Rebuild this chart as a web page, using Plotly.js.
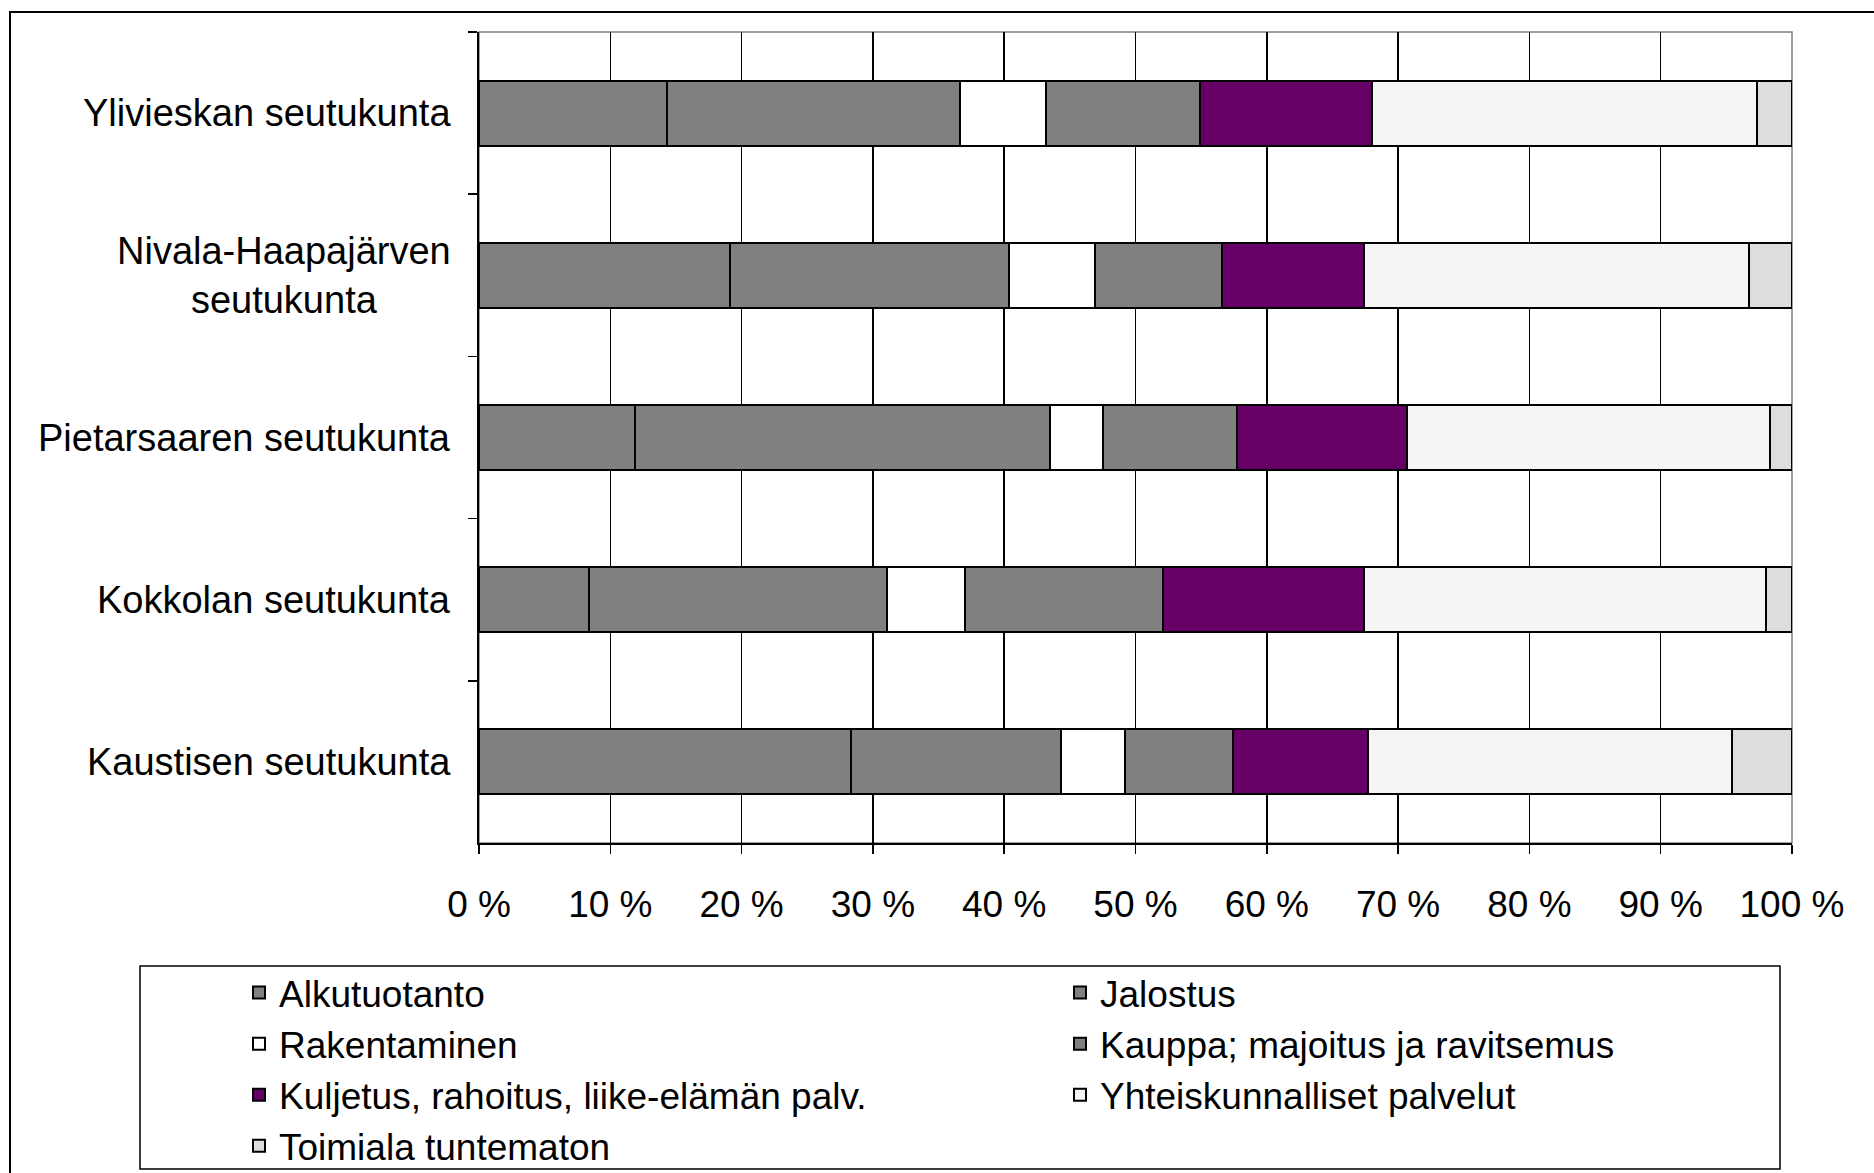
<!DOCTYPE html>
<html>
<head>
<meta charset="utf-8">
<script src="https://cdn.plot.ly/plotly-3.0.1.min.js"></script>
<style>
html, body { margin: 0; padding: 0; background: #ffffff; }
#chart { width: 1874px; height: 1173px; }
</style>
</head>
<body>
<div id="chart"></div>
<script>
// Categories, top to bottom
const regions = [
  "Ylivieskan seutukunta",
  "Nivala-Haapajärven<br>seutukunta",
  "Pietarsaaren seutukunta",
  "Kokkolan seutukunta",
  "Kaustisen seutukunta"
];

// Series names (legend order)
const seriesNames = [
  "Alkutuotanto",
  "Jalostus",
  "Rakentaminen",
  "Kauppa; majoitus ja ravitsemus",
  "Kuljetus, rahoitus, liike-elämän palv.",
  "Yhteiskunnalliset palvelut",
  "Toimiala tuntematon"
];

// Shares (%) per region, same order as regions
const alkutuotanto   = [14.3, 19.1, 11.9,  8.4, 28.3];
const jalostus       = [22.3, 21.3, 31.6, 22.7, 16.0];
const rakentaminen   = [ 6.6,  6.5,  4.0,  5.9,  4.9];
const kauppa         = [11.7,  9.7, 10.2, 15.1,  8.2];
const kuljetus       = [13.1, 10.8, 13.0, 15.3, 10.3];
const yhteiskunnall  = [29.3, 29.3, 27.6, 30.6, 27.7];
const tuntematon     = [ 2.7,  3.3,  1.7,  2.0,  4.6];

// X axis ticks
const tickVals = [0, 10, 20, 30, 40, 50, 60, 70, 80, 90, 100];
const tickText = ["0 %", "10 %", "20 %", "30 %", "40 %", "50 %", "60 %", "70 %", "80 %", "90 %", "100 %"];

const seriesValues = [alkutuotanto, jalostus, rakentaminen, kauppa, kuljetus, yhteiskunnall, tuntematon];
const seriesColors = ["#808080", "#808080", "#ffffff", "#808080", "#660066", "#f5f5f5", "#dddddd"];

const FONT = "Arial, 'Liberation Sans', Helvetica, sans-serif";
const FS = 37;

const traces = seriesNames.map((name, i) => ({
  type: "bar",
  orientation: "h",
  name: name,
  y: regions,
  x: seriesValues[i],
  marker: { color: seriesColors[i], line: { color: "#000000", width: 2 } },
  hoverinfo: "skip"
}));

// Layout geometry (pixels)
const W = 1874, H = 1173;
const L = 479, R = 1792, T = 32, B = 843;
const pw = R - L, ph = B - T;
const px = v => (v - L) / pw;
const py = v => (B - v) / ph;

const annotations = regions.map(r => ({
  xref: "paper", yref: "y",
  x: 0, y: r,
  xanchor: "right", yanchor: "middle",
  xshift: -26,
  text: r,
  align: "center",
  showarrow: false,
  font: { family: FONT, size: 38, color: "#000000" }
}));

const layout = {
  width: W, height: H,
  margin: { l: L, r: W - R, t: T, b: H - B, pad: 0, autoexpand: false },
  paper_bgcolor: "#ffffff",
  plot_bgcolor: "#ffffff",
  barmode: "stack",
  bargap: 0.6,
  showlegend: true,
  font: { family: FONT, size: FS, color: "#000000" },
  xaxis: {
    range: [0, 100],
    tickvals: tickVals,
    ticktext: tickText,
    ticks: "outside",
    ticklen: 9,
    tickwidth: 1.5,
    tickcolor: "#000000",
    showline: true,
    linecolor: "#000000",
    linewidth: 2,
    showgrid: true,
    gridcolor: "#000000",
    gridwidth: 1.5,
    zeroline: false,
    ticklabelstandoff: 19,
    tickfont: { family: FONT, size: FS, color: "#000000" },
    fixedrange: true
  },
  yaxis: {
    type: "category",
    categoryorder: "array",
    categoryarray: regions,
    autorange: "reversed",
    showticklabels: false,
    ticks: "outside",
    tickson: "boundaries",
    ticklen: 9,
    tickwidth: 1.5,
    tickcolor: "#000000",
    showline: true,
    linecolor: "#000000",
    linewidth: 2,
    showgrid: false,
    zeroline: false,
    fixedrange: true
  },
  legend: {
    orientation: "h",
    x: px(239),
    y: py(962),
    xanchor: "left",
    yanchor: "top",
    traceorder: "normal",
    entrywidth: 776,
    entrywidthmode: "pixels",
    bgcolor: "rgba(0,0,0,0)",
    borderwidth: 0,
    itemclick: false,
    itemdoubleclick: false,
    font: { family: FONT, size: FS, color: "#000000" }
  },
  annotations: annotations,
  shapes: [
    // plot area frame (grey)
    { type: "rect", xref: "paper", yref: "paper", x0: 0, x1: 1, y0: 0, y1: 1,
      line: { color: "#808080", width: 1.5 }, layer: "below" },
    // legend frame
    { type: "rect", xref: "paper", yref: "paper",
      x0: px(140), x1: px(1780), y0: py(1169), y1: py(966),
      line: { color: "#000000", width: 1.5 } },
    // outer chart border
    { type: "rect", xref: "paper", yref: "paper",
      x0: px(10), x1: px(1890), y0: py(1190), y1: py(12),
      line: { color: "#000000", width: 2 } }
  ]
};

Plotly.newPlot("chart", traces, layout, { displayModeBar: false, staticPlot: true });
</script>
</body>
</html>
